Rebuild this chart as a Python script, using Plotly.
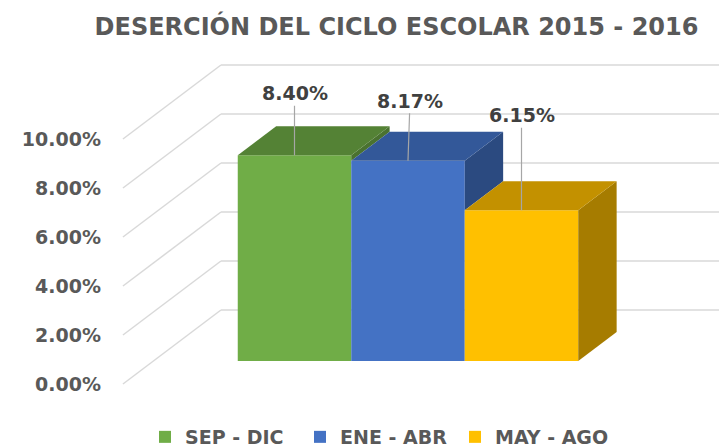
import plotly.graph_objects as go

# ---- data ----
categories = ["SEP - DIC", "ENE - ABR", "MAY - AGO"]
values = [0.0840, 0.0817, 0.0615]
tick_values = [0.0, 0.02, 0.04, 0.06, 0.08, 0.10]
title_text = "DESERCIÓN DEL CICLO ESCOLAR 2015 - 2016"

# ---- style ----
front_colors = ["#70AD47", "#4472C4", "#FFC000"]
top_colors = ["#548235", "#335899", "#C39100"]
side_colors = ["#4A7230", "#2B4A80", "#A67C00"]
grid_color = "#D9D9D9"
text_gray = "#595959"
label_dark = "#404040"
FONT = "DejaVu Sans"

OFF = 8                      # page body margin
W, H = 727 - OFF, 448 - OFF  # figure size so it fills the window
L = 99
PX_X = 113.5                 # pixels per category unit
PX_Y = 2450.0                # pixels per unit of value (fraction)
X0_PX = 294.5 - OFF          # pixel of first category center (figure coords)
Y0_PX = 361.0 - OFF          # pixel of value 0 on bar front plane

DX = 38.4 / PX_X  # bar depth offset (x units)
DY = 29.0 / PX_Y  # bar depth offset (value units)
K_BACK = 51.0 / 29.0    # back wall depth (in bar depths)
K_FRONT = -23.0 / 29.0  # front edge of side wall
SIDE_X = -1.243         # side wall x position on the bar front plane

x_range = [(L - X0_PX) / PX_X, (W - X0_PX) / PX_X]
y_range = [(Y0_PX - H) / PX_Y, Y0_PX / PX_Y]
y2_range = [y_range[0] - K_FRONT * DY, y_range[1] - K_FRONT * DY]

fig = go.Figure()

# front faces as real bars
for i, (c, v) in enumerate(zip(categories, values)):
    fig.add_trace(go.Bar(
        x=[i], y=[v], width=1.0, name=c,
        marker=dict(color=front_colors[i], line=dict(width=0)),
        hoverinfo="skip",
    ))

# top and visible side faces
for i, v in enumerate(values):
    nxt = values[i + 1] if i + 1 < len(values) else 0.0
    base = max(0.0, nxt)
    if v > base:
        xs = [i + 0.5, i + 0.5, i + 0.5 + DX, i + 0.5 + DX, i + 0.5]
        ys = [base, v, v + DY, base + DY, base]
        fig.add_trace(go.Scatter(x=xs, y=ys, mode="lines", fill="toself",
                                 fillcolor=side_colors[i], line=dict(width=0),
                                 showlegend=False, hoverinfo="skip"))
    xs = [i - 0.5, i + 0.5, i + 0.5 + DX, i - 0.5 + DX, i - 0.5]
    ys = [v, v, v + DY, v + DY, v]
    fig.add_trace(go.Scatter(x=xs, y=ys, mode="lines", fill="toself",
                             fillcolor=top_colors[i], line=dict(width=0),
                             showlegend=False, hoverinfo="skip"))

# gridlines on side wall and back wall
shapes = []
for t in tick_values:
    xf = SIDE_X + K_FRONT * DX
    yf = t + K_FRONT * DY
    xb = SIDE_X + K_BACK * DX
    yb = t + K_BACK * DY
    shapes.append(dict(type="line", xref="x", yref="y", x0=xf, y0=yf, x1=xb, y1=yb,
                       line=dict(color=grid_color, width=1.5), layer="below"))
    shapes.append(dict(type="line", xref="x", yref="y", x0=xb, y0=yb, x1=x_range[1], y1=yb,
                       line=dict(color=grid_color, width=1.5), layer="below"))

# data labels with leader lines
label_offsets = [(0, -62), (2, -60), (0, -95)]
annotations = []
for i, v in enumerate(values):
    ax, ay = label_offsets[i]
    annotations.append(dict(
        x=i, y=v, xref="x", yref="y", text=f"{v*100:.2f}%",
        showarrow=True, arrowhead=0, arrowwidth=1.2, arrowcolor="#A6A6A6",
        ax=ax, ay=ay, standoff=0,
        font=dict(family=FONT, size=19, color=label_dark, weight="bold"),
    ))

# invisible trace to activate the label axis
fig.add_trace(go.Scatter(x=[None], y=[None], yaxis="y2", showlegend=False, hoverinfo="skip"))

fig.update_layout(
    width=W, height=H,
    margin=dict(l=L, r=0, t=0, b=0, autoexpand=False),
    paper_bgcolor="white", plot_bgcolor="white",
    barmode="overlay",
    shapes=shapes,
    annotations=annotations,
    title=dict(text=title_text, x=(396.5 - OFF) / W, xref="container", xanchor="center",
               y=1 - (27 - OFF) / H, yref="container", yanchor="middle",
               font=dict(family=FONT, size=24, color=text_gray, weight="bold")),
    xaxis=dict(range=x_range, visible=False, fixedrange=True),
    yaxis=dict(range=y_range, visible=False, fixedrange=True),
    yaxis2=dict(range=y2_range, overlaying="y", side="left", automargin=False,
                tickvals=tick_values, tickformat=".2%", showgrid=False,
                zeroline=False, showline=False, ticks="", ticklabelstandoff=5,
                tickfont=dict(family=FONT, size=19, color=text_gray, weight="bold"),
                fixedrange=True),
    legend=dict(orientation="h", x=(145 - OFF - L) / (W - L), xanchor="left",
                y=1 - (437 - OFF) / H, yanchor="middle", entrywidth=110,
                font=dict(family=FONT, size=19, color=text_gray, weight="bold"),
                bgcolor="rgba(0,0,0,0)"),
    showlegend=True,
)

fig.write_html("out.html")
